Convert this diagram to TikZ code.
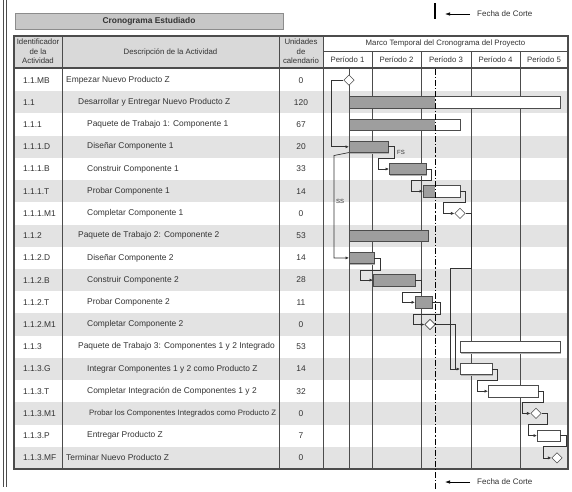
\documentclass[tikz,border=0pt]{standalone}
\usepackage{fontspec}
\setmainfont{Liberation Sans}
\usetikzlibrary{shapes.geometric,arrows.meta,calc}

% Gantt bar: name, row y, start x, end of completed part, end x
\newcommand\gbar[5]{%
  \fill[black!30] (#3+1.2,#2-4.3) rectangle (#5+1.2,#2+6.7);
  \node[bar, minimum width=#5-#3] (#1) at (#3,#2) {};
  \fill[done] (#3,#2-5.5) rectangle (#4,#2+5.5);
  \draw[barline] (#1.north west) rectangle (#1.south east);
}

\begin{document}
\begin{tikzpicture}[x=1pt,y=-1pt,
  every node/.style={font=\fontsize{8.4}{9.6}\selectfont, inner sep=0pt, text=black!80},
  headtext/.style={font=\fontsize{7.8}{9.4}\selectfont, align=center},
  gridline/.style={draw=black!70, line width=0.7pt},
  frame/.style={draw=black!70, line width=1.3pt},
  band/.style={fill=black!11},
  headcell/.style={fill=black!15},
  bar/.style={draw=none, fill=white, minimum height=11pt, inner sep=0pt, anchor=west},
  barline/.style={draw=black!70, line width=0.6pt},
  done/.style={fill=black!38},
  ms/.style={diamond, draw=black!70, fill=white, line width=0.6pt, minimum size=10.5pt, inner sep=0pt},
  link/.style={draw=black!80, line width=0.7pt, -{Latex[length=3.5pt,width=3.2pt]}},
  linkplain/.style={draw=black!80, line width=0.7pt},
  relation/.style={font=\fontsize{6}{7}\selectfont, anchor=west},
  cutline/.style={draw=black, line width=0.8pt, dash pattern=on 6pt off 2pt on 1.2pt off 2pt},
  cutarrow/.style={draw=black, line width=0.7pt, -{Latex[length=5pt,width=3.5pt]}}
]
\useasboundingbox (0,0) rectangle (572,491);

% left margin rule
\draw[black!70, line width=0.8pt] (3,0) -- (3,487);
\draw[black!70, line width=0.8pt] (6,0) -- (6,487);

% title
\node[draw=black!45, fill=black!22, minimum width=268pt, minimum height=16pt,
      font=\fontsize{8.4}{9.6}\selectfont\bfseries] (title) at (149,21.5) {Cronograma Estudiado};

% header cells
\fill[headcell] (14,36) rectangle (323,68);
\node[headtext] (hid) at (38,51.5) {Identificador\\de la\\Actividad};
\node[headtext] (hdesc) at (170.5,52) {Descripción de la Actividad};
\node[headtext] (hunits) at (301,51.5) {Unidades\\de\\calendario};
\node[headtext] (hframe) at (445.5,43.5) {Marco Temporal del Cronograma del Proyecto};
\node[headtext] (p1) at (347.5,59.5) {Período 1};
\node[headtext] (p2) at (396.5,59.5) {Período 2};
\node[headtext] (p3) at (446,59.5) {Período 3};
\node[headtext] (p4) at (495.5,59.5) {Período 4};
\node[headtext] (p5) at (544,59.5) {Período 5};

% alternating row bands
\foreach \i in {1,3,...,17}
  \fill[band] (14,69+22.22*\i) rectangle (568,69+22.22*\i+22.22);

% grid
\draw[gridline] (62,36) -- (62,469);
\draw[gridline] (279,36) -- (279,469);
\draw[gridline] (323,36) -- (323,469);
\draw[gridline] (323,51) -- (568,51);
\foreach \x in {372,421,471,520}
  \draw[gridline] (\x,51) -- (\x,469);
\draw[gridline] (349,68) -- (349,469);
\draw[frame] (14,68) -- (568,68);
\draw[frame] (14,36) rectangle (568,469);

% activity rows: id / description indent / description / calendar units
\foreach \id/\dx/\desc/\u [count=\i from 0] in {
  1.1.MB/66/Empezar Nuevo Producto Z/0,
  1.1/78/Desarrollar y Entregar Nuevo Producto Z/120,
  1.1.1/87/Paquete de Trabajo 1: Componente 1/67,
  1.1.1.D/87/Diseñar Componente 1/20,
  1.1.1.B/87/Construir Componente 1/33,
  1.1.1.T/87/Probar Componente 1/14,
  1.1.1.M1/87/Completar Componente 1/0,
  1.1.2/78/Paquete de Trabajo 2: Componente 2/53,
  1.1.2.D/87/Diseñar Componente 2/14,
  1.1.2.B/87/Construir Componente 2/28,
  1.1.2.T/87/Probar Componente 2/11,
  1.1.2.M1/87/Completar Componente 2/0,
  1.1.3/78/Paquete de Trabajo 3: Componentes 1 y 2 Integrado/53,
  1.1.3.G/87/Integrar Componentes 1 y 2 como Producto Z/14,
  1.1.3.T/87/Completar Integración de Componentes 1 y 2/32,
  1.1.3.M1/89/{\fontsize{7.8}{9}\selectfont Probar los Componentes Integrados como Producto Z}/0,
  1.1.3.P/87/Entregar Producto Z/7,
  1.1.3.MF/66/Terminar Nuevo Producto Z/0}
{
  \node[anchor=west] (id\i) at (23,69+22.22*\i+11.11) {\id};
  \node[anchor=west] (desc\i) at (\dx,69+22.22*\i+11.11) {\desc};
  \node (u\i) at (301,69+22.22*\i+11.11) {\u};
}

% bars and milestones
\node[ms] (mb) at (349,80.1) {};
\gbar{s11}{102.3}{349}{435}{560}
\gbar{w1}{124.6}{349}{435}{460}
\gbar{d1}{146.8}{349}{388}{388}
\gbar{b1}{169.0}{389}{426}{426}
\gbar{t1}{191.2}{423}{435}{460}
\node[ms] (m1) at (460,213.4) {};
\gbar{w2}{235.7}{349}{428}{428}
\gbar{d2}{257.9}{349}{374}{374}
\gbar{b2}{280.1}{373}{415}{415}
\gbar{t2}{302.3}{415}{432}{432}
\node[ms] (m2) at (430,324.5) {};
\gbar{w3}{346.8}{460}{460}{560}
\gbar{g3}{369.0}{460}{460}{492}
\gbar{t3}{391.2}{488}{488}{538}
\node[ms] (m3) at (536,413.4) {};
\gbar{p3}{435.6}{537}{537}{560}
\node[ms] (mf) at (557,457.9) {};

% dependencies
\draw[link] (mb.west) -- ++(-12,0) |- (d1.west);
\draw[link] (d1.south west) -- ++(-15,3) |- (d2.west);
\node[relation] (ss) at (336,201) {SS};
\draw[link] (d1.east) -- ++(6,0) |- ++(-16,12) |- (b1.west);
\node[relation] (fs) at (397,152.5) {FS};
\draw[link] (b1.east) -- ++(5,0) |- ++(-20,11) |- (t1.west);
\draw[link] (t1.east) -- ++(5,0) |- ++(-22,11) |- (m1.west);
\draw[link] (m1.east) -- ++(6,0) |- ++(-21,55) |- (g3.west);
\draw[link] (d2.east) -- ++(6,0) |- ++(-20,12) |- (b2.west);
\draw[link] (b2.east) -- ++(6,0) |- ++(-19,12) |- (t2.west);
\draw[link] (t2.east) -- ++(8,0) |- ++(-27,12) |- (m2.west);
\draw[linkplain] (m2.east) -| ([xshift=-5pt]g3.west);
\draw[link] (g3.east) -- ++(5,0) |- ++(-20,11) |- (t3.west);
\draw[link] (t3.east) -- ++(5,0) |- ++(-21,11) |- (m3.west);
\draw[link] (m3.east) -- ++(6,0) |- ++(-19,11) |- (p3.west);
\draw[link] (p3.east) -- ++(6,0) |- ++(-23,11) |- (mf.west);

% status date
\draw[cutline] (435,69) -- (435,491);
\draw[black, line width=1.3pt] (435,3) -- (435,19);
\coordinate (cuttop) at (470,14);
\coordinate (cutbot) at (470,482);
\draw[cutarrow] (cuttop) -- ++(-25,0);
\draw[cutarrow] (cutbot) -- ++(-25,0);
\node[anchor=west, font=\fontsize{8}{9.6}\selectfont] (cuttoplabel) at (477,14) {Fecha de Corte};
\node[anchor=west, font=\fontsize{8}{9.6}\selectfont] (cutbotlabel) at (477,482) {Fecha de Corte};
\end{tikzpicture}
\end{document}
